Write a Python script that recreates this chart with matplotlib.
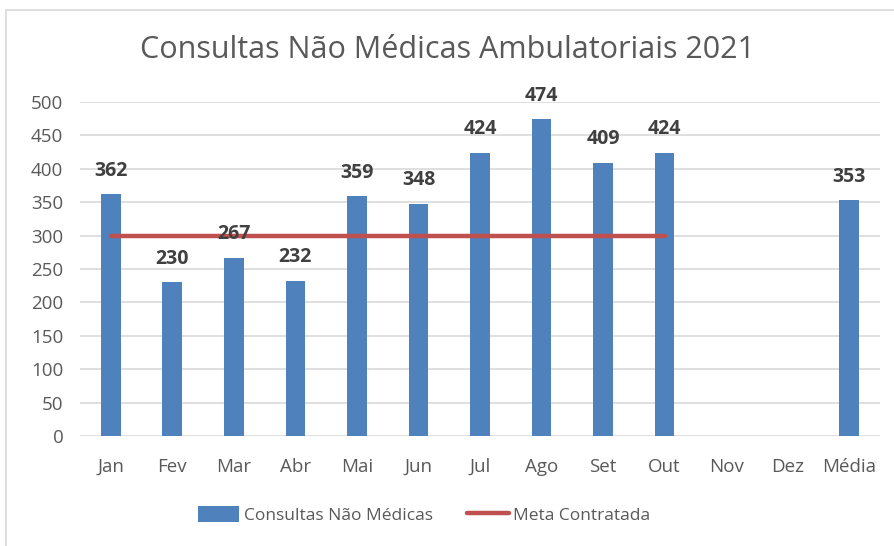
import matplotlib
matplotlib.use("Agg")
import matplotlib.pyplot as plt
from matplotlib.patches import Rectangle
import numpy as np

categories = ["Jan", "Fev", "Mar", "Abr", "Mai", "Jun", "Jul", "Ago", "Set", "Out", "Nov", "Dez", "Média"]
consultas = [362, 230, 267, 232, 359, 348, 424, 474, 409, 424, None, None, 353]
meta = [300, 300, 300, 300, 300, 300, 300, 300, 300, 300, None, None, None]
yticks = [0, 50, 100, 150, 200, 250, 300, 350, 400, 450, 500]

plt.rcParams['font.family'] = ['Open Sans', 'DejaVu Sans']

W, H = 894, 546
fig = plt.figure(figsize=(W / 100, H / 100), dpi=100)
ax = fig.add_axes([80 / W, 1 - 436 / H, 800 / W, (436 - 102) / H])

blue = "#4F81BD"
red = "#C0504D"
txt = "#595959"

x = np.arange(len(categories))
bx = [i for i, v in zip(x, consultas) if v is not None]
bv = [v for v in consultas if v is not None]
bars = ax.bar(bx, bv, width=0.32, color=blue, zorder=3, label="Consultas Não Médicas")
mx = [i for i, v in zip(x, meta) if v is not None]
mv = [v for v in meta if v is not None]
line, = ax.plot(mx, mv, color=red, lw=3.2, solid_capstyle="round", zorder=4, label="Meta Contratada")

for i, v in zip(bx, bv):
    ax.annotate(str(v), (i, v), xytext=(0, 17), textcoords="offset points",
                ha="center", va="center", fontsize=14, fontweight="bold", color="#404040", zorder=5)

ax.set_xlim(-0.5, len(categories) - 0.5)
ax.set_ylim(0, 500)
ax.set_yticks(yticks)
ax.set_xticks(x)
ax.set_xticklabels(categories)
ax.tick_params(axis="both", length=0, labelsize=13.5, colors=txt)
ax.tick_params(axis="x", pad=16)
ax.tick_params(axis="y", pad=12)
ax.grid(axis="y", color="#D9D9D9", lw=1.2, zorder=0)
for s in ax.spines.values():
    s.set_visible(False)

fig.text(0.5, 1 - 50 / H, "Consultas Não Médicas Ambulatoriais 2021", ha="center", va="center",
         fontsize=22, color=txt)

leg = fig.legend([bars, line], ["Consultas Não Médicas", "Meta Contratada"],
                 loc="center", bbox_to_anchor=(424 / W, 1 - 515 / H), ncol=2, frameon=False,
                 fontsize=12.5, handlelength=2.4, handleheight=1.0, handletextpad=0.25, columnspacing=2.0)
for t in leg.get_texts():
    t.set_color(txt)

fig.patches.append(Rectangle((6 / W, -0.05), 1.1, 1 - 10 / H + 0.05, transform=fig.transFigure,
                             fill=False, edgecolor="#D9D9D9", lw=1.2))

fig.savefig("out.png", dpi=100)
